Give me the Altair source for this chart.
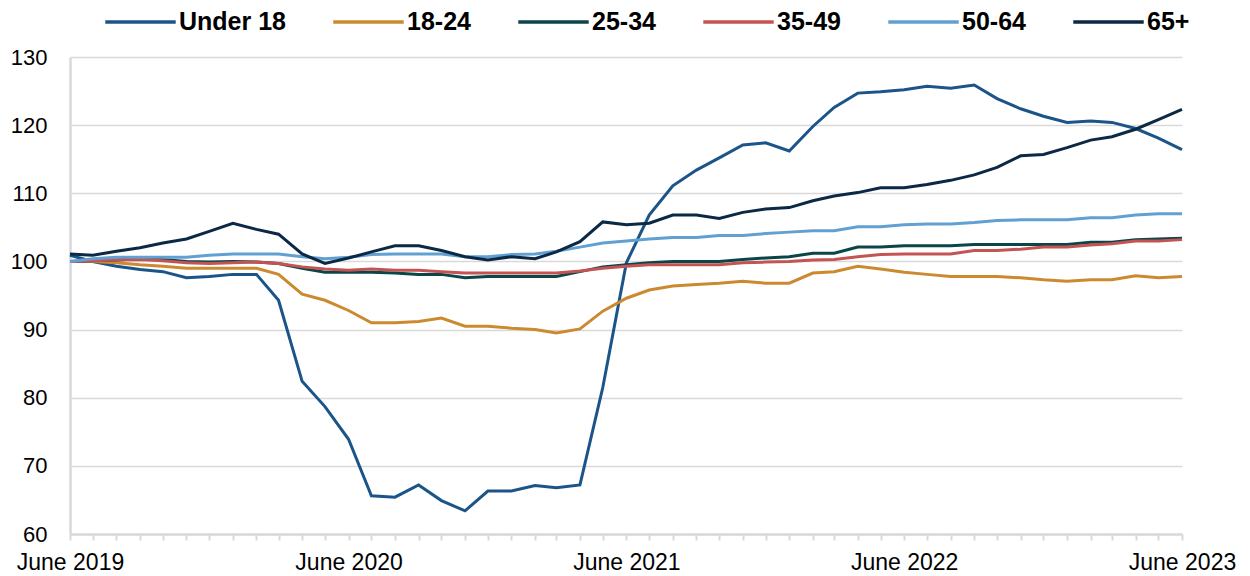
import altair as alt
import pandas as pd

months = pd.date_range("2019-06-01", "2023-06-01", freq="MS")
month_labels = [d.strftime("%Y-%m-%dT00:00:00") for d in months]

series_names = ["Under 18", "18-24", "25-34", "35-49", "50-64", "65+"]
series_colors = ["#1B5488", "#CC8A30", "#0A4548", "#C45454", "#63A0D2", "#0B2845"]

under_18 = [100.9, 100.0, 99.3, 98.8, 98.5, 97.6, 97.8, 98.1, 98.1, 94.3,
            82.4, 78.7, 73.9, 65.6, 65.4, 67.2, 64.9, 63.4, 66.3, 66.3,
            67.1, 66.8, 67.2, 81.5, 99.8, 106.8, 111.1, 113.4, 115.2, 117.1,
            117.4, 116.2, 119.8, 122.6, 124.7, 124.9, 125.2, 125.7, 125.4, 125.9,
            123.9, 122.4, 121.3, 120.4, 120.6, 120.4, 119.5, 118.1, 116.4]
age_18_24 = [100.0, 100.0, 99.8, 99.5, 99.3, 99.0, 99.0, 99.0, 99.0, 98.1,
             95.2, 94.3, 92.8, 91.0, 91.0, 91.2, 91.7, 90.5, 90.5, 90.2,
             90.0, 89.5, 90.1, 92.7, 94.6, 95.8, 96.4, 96.6, 96.8, 97.1,
             96.8, 96.8, 98.3, 98.5, 99.3, 98.9, 98.4, 98.1, 97.8, 97.8,
             97.8, 97.6, 97.3, 97.1, 97.3, 97.3, 97.9, 97.6, 97.8]
age_25_34 = [100.0, 100.1, 100.2, 100.4, 100.3, 100.0, 99.9, 100.0, 99.9, 99.7,
             99.0, 98.4, 98.4, 98.4, 98.3, 98.1, 98.1, 97.6, 97.8, 97.8,
             97.8, 97.8, 98.5, 99.2, 99.5, 99.8, 100.0, 100.0, 100.0, 100.3,
             100.5, 100.7, 101.2, 101.2, 102.1, 102.1, 102.3, 102.3, 102.3, 102.5,
             102.5, 102.5, 102.5, 102.5, 102.8, 102.8, 103.2, 103.3, 103.4]
age_35_49 = [100.0, 100.1, 100.2, 100.3, 100.1, 99.8, 99.7, 99.8, 99.9, 99.7,
             99.2, 98.9, 98.7, 98.9, 98.7, 98.7, 98.5, 98.3, 98.3, 98.3,
             98.3, 98.3, 98.6, 99.0, 99.3, 99.5, 99.5, 99.5, 99.5, 99.8,
             99.9, 100.0, 100.2, 100.3, 100.7, 101.0, 101.1, 101.1, 101.1, 101.6,
             101.6, 101.8, 102.1, 102.1, 102.4, 102.6, 103.0, 103.0, 103.2]
age_50_64 = [100.0, 100.4, 100.6, 100.6, 100.6, 100.6, 100.9, 101.1, 101.1, 101.1,
             100.7, 100.4, 100.6, 101.0, 101.1, 101.1, 101.1, 100.7, 100.7, 101.0,
             101.1, 101.5, 102.1, 102.7, 103.0, 103.3, 103.5, 103.5, 103.8, 103.8,
             104.1, 104.3, 104.5, 104.5, 105.1, 105.1, 105.4, 105.5, 105.5, 105.7,
             106.0, 106.1, 106.1, 106.1, 106.4, 106.4, 106.8, 107.0, 107.0]
age_65_plus = [101.1, 100.9, 101.5, 102.0, 102.7, 103.3, 104.4, 105.6, 104.7, 104.0,
               101.1, 99.7, 100.5, 101.4, 102.3, 102.3, 101.6, 100.7, 100.2, 100.7,
               100.4, 101.4, 102.9, 105.8, 105.4, 105.6, 106.8, 106.8, 106.3, 107.2,
               107.7, 107.9, 108.9, 109.6, 110.1, 110.8, 110.8, 111.3, 111.9, 112.7,
               113.8, 115.5, 115.7, 116.7, 117.8, 118.3, 119.4, 120.8, 122.3]

y_ticks = [60, 70, 80, 90, 100, 110, 120, 130]

all_series = [under_18, age_18_24, age_25_34, age_35_49, age_50_64, age_65_plus]
rows = []
for name, vals in zip(series_names, all_series):
    for m, v in zip(month_labels, vals):
        rows.append({"month": m, "group": name, "value": v})
df = pd.DataFrame(rows)

tick_dates = [alt.DateTime(year=d.year, month=d.month, date=1) for d in months]

FONT = "Liberation Sans"
GRID = "#D9D9D9"

chart = alt.Chart(df).mark_line(strokeWidth=3).encode(
    x=alt.X(
        "month:T",
        scale=alt.Scale(
            domain=[alt.DateTime(year=2019, month=6, date=1),
                    alt.DateTime(year=2023, month=6, date=1)],
            nice=False,
        ),
        axis=alt.Axis(
            title=None,
            values=tick_dates,
            labelExpr="month(datum.value) == 5 ? timeFormat(datum.value, '%B %Y') : ''",
            labelOverlap=False,
            labelFlush=False,
            labelFont=FONT,
            labelFontSize=23,
            labelColor="#000000",
            labelPadding=11,
            grid=False,
            domain=True,
            domainColor=GRID,
            domainWidth=2.5,
            ticks=True,
            tickColor=GRID,
            tickWidth=2,
            tickSize=6,
        ),
    ),
    y=alt.Y(
        "value:Q",
        scale=alt.Scale(domain=[60, 130], nice=False, zero=False),
        axis=alt.Axis(
            title=None,
            values=y_ticks,
            labelFont=FONT,
            labelFontSize=22,
            labelColor="#000000",
            labelPadding=23,
            grid=True,
            gridColor=GRID,
            gridWidth=1.5,
            domain=True,
            domainColor=GRID,
            domainWidth=2.5,
            ticks=False,
        ),
    ),
    color=alt.Color(
        "group:N",
        scale=alt.Scale(domain=series_names, range=series_colors),
        sort=series_names,
        legend=alt.Legend(
            title=None,
            orient="none",
            direction="horizontal",
            columns=6,
            legendX=33.5,
            legendY=-72,
            symbolType="stroke",
            symbolSize=4960,
            symbolStrokeWidth=3.5,
            labelFont=FONT,
            labelFontSize=25,
            labelFontWeight="bold",
            labelColor="#000000",
            labelOffset=1.5,
            columnPadding=39,
            labelLimit=300,
        ),
    ),
).properties(
    width=1112,
    height=477,
    autosize=alt.AutoSizeParams(type="none"),
    padding={"left": 62, "top": 49, "right": 60, "bottom": 40},
).configure_view(stroke=None)

chart.save("out.html", embed_options={"renderer": "svg", "actions": False})
